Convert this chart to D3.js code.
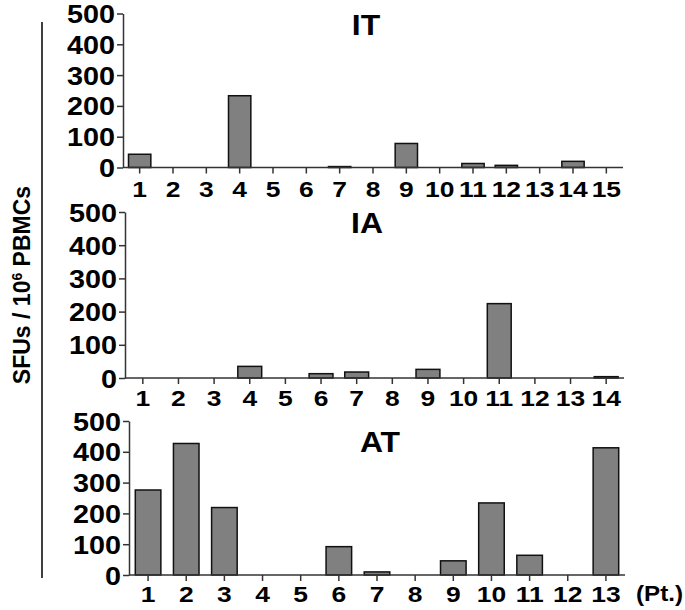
<!DOCTYPE html>
<html>
<head>
<meta charset="utf-8">
<script src="https://cdn.jsdelivr.net/npm/d3@7"></script>
<style>
  body { margin: 0; background: #fff; }
  svg { display: block; font-family: "Liberation Sans", Arial, sans-serif; font-weight: bold; }
</style>
</head>
<body>
<div id="chart"></div>
<script>
// patients per group
const itPatients = d3.range(1, 16);
const iaPatients = d3.range(1, 15);
const atPatients = d3.range(1, 14);

// SFUs / 10^6 PBMCs
const itValues = [43, 0, 0, 233, 0, 0, 3, 0, 78, 0, 13, 7, 0, 20, 0];
const iaValues = [0, 0, 0, 35, 0, 13, 18, 0, 26, 0, 224, 0, 0, 4];
const atValues = [276, 427, 219, 0, 0, 92, 10, 0, 46, 234, 64, 0, 413];

const yTicks = [0, 100, 200, 300, 400, 500];

const width = 685, height = 610;
const font = '"Liberation Sans", Arial, sans-serif';

const svg = d3.select('#chart')
    .append('svg')
    .attr('width', width)
    .attr('height', height);

// the original lettering is a bit wider than Liberation Sans Bold
function widen(sel, k) {
    sel.each(function () {
        const w = this.getComputedTextLength();
        d3.select(this)
            .attr('textLength', w * k)
            .attr('lengthAdjust', 'spacingAndGlyphs');
    });
}

// panel boxes (plot area)
const panels = [
    { title: 'IT', cats: itPatients, vals: itValues, x0: 123, x1: 623, top: 13.5, bottom: 167.5, titleX: 366, titleY: 35, labelY: 197 },
    { title: 'IA', cats: iaPatients, vals: iaValues, x0: 125, x1: 624, top: 212, bottom: 378, titleX: 367, titleY: 233, labelY: 406 },
    { title: 'AT', cats: atPatients, vals: atValues, x0: 129, x1: 625, top: 421, bottom: 575, titleX: 380, titleY: 452, labelY: 602 }
];

panels.forEach(p => {
    const g = svg.append('g');

    const x = d3.scaleBand()
        .domain(p.cats)
        .range([p.x0, p.x1])
        .paddingInner(0.33)
        .paddingOuter(0.165);

    const y = d3.scaleLinear()
        .domain([0, 500])
        .range([p.bottom, p.top]);

    // bars
    g.selectAll('.bar')
        .data(p.cats.map((c, i) => ({ c, v: p.vals[i] })).filter(d => d.v > 0))
        .join('rect')
        .attr('class', 'bar')
        .attr('x', d => x(d.c))
        .attr('y', d => y(d.v))
        .attr('width', x.bandwidth())
        .attr('height', d => y(0) - y(d.v))
        .attr('fill', '#808080')
        .attr('stroke', '#111')
        .attr('stroke-width', 1.5);

    // y axis
    g.append('g')
        .attr('transform', `translate(${p.x0},0)`)
        .call(d3.axisLeft(y).tickValues(yTicks).tickSize(6).tickPadding(2).tickSizeOuter(0))
        .call(a => a.select('.domain').attr('stroke', '#333').attr('stroke-width', 1.5))
        .call(a => a.selectAll('.tick line').attr('stroke', '#333').attr('stroke-width', 1.5))
        .call(a => a.selectAll('text')
            .attr('fill', '#000')
            .attr('dy', '0.36em')
            .style('font-size', '25px')
            .style('font-weight', 'bold')
            .style('font-family', font)
            .call(widen, 1.15));

    // x axis
    g.append('g')
        .attr('transform', `translate(0,${p.bottom})`)
        .call(d3.axisBottom(x).tickSize(6).tickSizeOuter(0))
        .call(a => a.select('.domain').attr('stroke', '#333').attr('stroke-width', 1.5)
            .attr('d', `M${p.x0},0H${p.x1}`))
        .call(a => a.selectAll('.tick line').attr('stroke', '#333').attr('stroke-width', 1.5))
        .call(a => a.selectAll('text')
            .attr('dy', null)
            .attr('y', p.labelY - p.bottom)
            .attr('fill', '#000')
            .style('font-size', '22px')
            .style('font-weight', 'bold')
            .style('font-family', font)
            .call(widen, 1.2));

    // title
    g.append('text')
        .attr('x', p.titleX)
        .attr('y', p.titleY)
        .attr('text-anchor', 'middle')
        .style('font-size', '29px')
        .text(p.title)
        .call(widen, 1.1);
});

// (Pt.) label
svg.append('text')
    .attr('x', 636)
    .attr('y', 601)
    .style('font-size', '22px')
    .text('(Pt.)')
    .call(widen, 1.1);

// shared y label with its bracket line
svg.append('line')
    .attr('x1', 42).attr('x2', 42)
    .attr('y1', 22).attr('y2', 578)
    .attr('stroke', '#000')
    .attr('stroke-width', 1.5);

const yLabel = svg.append('text')
    .attr('transform', 'translate(30,285) rotate(-90)')
    .attr('text-anchor', 'middle')
    .style('font-size', '23px');
yLabel.append('tspan').text('SFUs / 10');
yLabel.append('tspan').attr('baseline-shift', 'super').style('font-size', '14px').text('6');
yLabel.append('tspan').text(' PBMCs');
</script>
</body>
</html>
